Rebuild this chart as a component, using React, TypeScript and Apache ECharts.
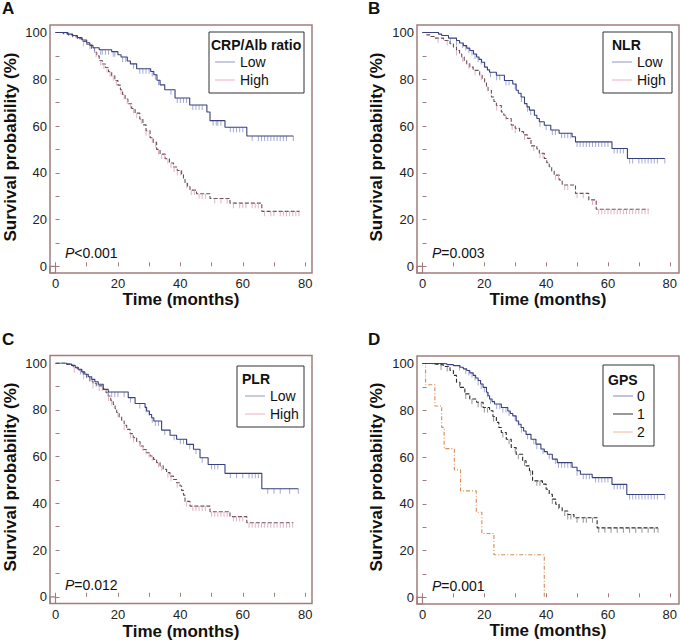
import React, { useEffect, useRef } from 'react';
import * as echarts from 'echarts';

type Step = [number, number];

const FONT = '"Liberation Sans", Arial, Helvetica, sans-serif';
const FRAME = '#a27c7c';

const X_TICK_LABELS = [0, 20, 40, 60, 80];
const Y_TICK_LABELS = [0, 20, 40, 60, 80, 100];
const panelLetters = ['A', 'B', 'C', 'D'];
const legendTitles = ['CRP/Alb ratio', 'NLR', 'PLR', 'GPS'];
const groupNames = [['Low', 'High'], ['Low', 'High'], ['Low', 'High'], ['0', '1', '2']];
const pSigns = ['<', '=', '=', '='];
const pValues = ['0.001', '0.003', '0.012', '0.001'];
const yTitle = 'Survival probability (%)';
const xTitle = 'Time (months)';

// Panel A: CRP/Alb ratio
const aLow: Step[] = [[0,100],[4,99.3],[5.5,98.7],[7,97.8],[8.5,96.8],[10,95.6],[11,94.5],[12,93.5],[14,92.6],[18,91.8],[20,90.5],[21,89.5],[23,87.8],[24,86.6],[26,84.5],[30.5,83.3],[31.5,81.9],[32.5,79.6],[33.5,77.6],[35,75.5],[38.3,72],[43,69],[48.5,66],[49.5,62.3],[54.3,59.5],[61.3,55.7],[76.2,55.7]];
const aHigh: Step[] = [[0,100],[2.5,99.5],[4,99],[5.5,98.2],[7,97.3],[8.5,96.2],[10,95],[11.5,93.2],[12.5,91.5],[13.2,90],[14,88],[15,86.5],[16,85],[17,83.2],[18,81.5],[19,79.5],[20,77.5],[20.8,75.5],[21.5,73.5],[22.3,71.5],[23.2,69.5],[24.4,67.5],[25.5,65.5],[27,63],[28,60.5],[29,58],[30.3,55],[31.3,53],[32.4,50],[33.5,48],[35.1,46],[36.5,44.2],[37.8,42.5],[39,41],[40.4,39.5],[41,37.5],[41.5,35.5],[42.3,34],[43.1,32.6],[45.2,31],[49.5,29],[55.9,27],[66.1,23.5],[78.2,23.5]];
const aLowCens = [12.5,14.5,15,16,17,18.5,19,21.5,22.5,25,27,28,29,30,31,32,33,37,39,40,41,42,44,45,46,47,50.5,51.5,52,53,56,57,58,59,60,63,65,66,67,68,69,70,71,72,73,74,76.2];
const aHighCens = [9,11,13,14.5,15.5,16.5,17.5,18.5,19.5,21,22,23,24,25,26,27.5,29,30,31,32,33,34,35,36,37,38,39,40,42,43.5,44.5,46,47,48,51,53,55,57,59,60,61,63,64,65,67,69,70,72,73,74,75,76,77,78];

// Panel B: NLR
const bLow: Step[] = [[0,100],[5.2,99.3],[6.2,98.7],[8.4,97.6],[11,96.6],[12,95.5],[13.2,94.4],[14.3,93.3],[15.3,92.3],[16.5,90.8],[17.5,89.5],[18.3,88.5],[19.1,87.3],[20.1,85.2],[21,84],[21.7,83],[23.9,81.7],[26.5,79.5],[29.2,78],[30.3,75.3],[31,74],[31.9,72.4],[33,69.6],[33.8,68.2],[34.6,66.8],[36.2,64.6],[37,63.2],[37.8,61.8],[39.4,60.3],[41.5,58.3],[44.2,56.9],[48.4,55.4],[49.5,53.2],[61.3,50.4],[66.3,46.1],[78.4,46.1]];
const bHigh: Step[] = [[0,100],[1.4,99],[2.5,98.3],[4.1,97.6],[6.8,96.6],[8.9,95.2],[10,93.8],[11,92.3],[12,90.8],[12.7,89.5],[13.5,88],[14.3,86.6],[15.3,85.2],[16.4,83.8],[18.5,81.7],[19.3,80.3],[20.1,78.8],[20.7,77],[21.2,75.3],[22.3,72.4],[23.1,70.5],[23.9,68.8],[25.5,66],[26.3,64.6],[27.1,63.2],[28.7,60.4],[30,59],[31.4,57.6],[32.7,56.2],[34,54.7],[35.1,51.5],[37,50.2],[37.8,48.3],[39.4,46.1],[40.2,44.3],[41,42.6],[41.8,40.8],[42.6,39],[44.2,36.9],[45.2,34.8],[49.5,31.2],[53.8,28.4],[56.2,24.4],[73.1,24.4]];
const bLowCens = [9,11,13,14,15,16,17,18,19,20,22,24,25,27,28,30,32,34,35,38,40,42,43,45,46,47,48,50,51,52,53,54,55,56,57,58,59,60,62,63,64,65,67,68,70,71,72,73,74,75,76,78.4];
const bHighCens = [5,8,11,13,15,17,19,21,24,27,29,30,33,36,38,39,43,44,46,47,50,52,55,57,58,59,60,61,62,63,64,65,66,67,68,69,70,71,72,73];

// Panel C: PLR
const cLow: Step[] = [[0,100],[3.6,99.5],[5.2,99],[6.3,98.2],[7.3,97.3],[8.4,96.2],[9.4,95.2],[10.5,94.1],[11.6,93],[12.6,92],[13.7,90.9],[15.3,88.7],[16.9,87.6],[23.3,85.2],[25.5,82.7],[28.7,81],[29.2,79.5],[30.1,78],[30.8,76.6],[31.5,75.2],[34,71.3],[36.7,69.1],[38.8,67.4],[42,65.2],[44.2,63.1],[46.3,59.5],[48.9,56.6],[54.3,52.8],[66.1,46.2],[77.8,46.2]];
const cHigh: Step[] = [[0,100],[3,99.5],[4.5,99],[5.7,98],[7,97],[8.9,95.2],[10,93.8],[11,92.3],[12,91.2],[13.2,90.2],[15.3,88.7],[16.2,87.3],[16.9,85.9],[17.7,84],[18.5,82.3],[19.1,80.5],[19.6,78.8],[20.4,77],[21.2,75.2],[22,73.4],[22.8,71.6],[23.9,69.8],[24.9,68.1],[26,66.3],[27.1,64.5],[28.1,63],[29.2,61.6],[30.3,60.2],[31.4,58.8],[32.4,57.4],[33.5,56],[34.5,54.5],[35.6,53.1],[36.7,51.6],[37.8,50.2],[38.8,48.8],[39.9,47.4],[40.4,45.5],[41,43.5],[41.5,40.8],[43.1,38.8],[49.5,36.4],[55.9,34.3],[61.3,31.7],[76.2,31.7]];
const cLowCens = [8,11,13,17,18,19,20,22,24,27,29,30,31,32,33,35,38,40,41,43,45,47,50,51,52,56,58,60,62,63,64,65,68,70,72,75,77.8];
const cHighCens = [6,9,12,14,15,17,18,20,22,24,25,27,28,29,30,31,33,34,36,37,39,42,44,45,46,47,48,50,51,52,53,54,55,57,58,59,60,62,63,64,65,66,67,68,69,70,71,72,73,74,75,76];

// Panel D: GPS
const dZero: Step[] = [[0,100],[5.7,99.9],[7.9,99.5],[10,99.1],[12.1,98.4],[13.2,97.7],[14.3,97],[15.3,96],[16.4,94.9],[17.2,93.8],[18,92.7],[18.8,91.2],[19.6,89.8],[20.7,87.7],[21.2,86.2],[21.7,84.8],[22.5,83.7],[23.3,82.7],[25.5,81.2],[27.6,79.7],[28.4,78.6],[29.2,77.6],[30.3,75.4],[31.1,74],[31.9,72.6],[32.7,71.1],[33.5,69.7],[35.1,67.6],[36.7,65.5],[38.3,63.4],[39.4,62.3],[40.4,61.2],[42,59.1],[43.6,57.6],[48.4,55.6],[50,54.1],[51.1,52.6],[54.9,51.2],[61.3,48.3],[66.1,44],[78.4,44]];
const dOne: Step[] = [[0,100],[3,99.7],[4.6,99.4],[6.8,98.7],[8.9,97],[10,94.9],[11,92],[12.1,89.8],[13.7,87],[15.3,84.8],[17.5,83.4],[19.6,81.2],[21.7,79.8],[22.8,77.3],[23.9,74.8],[24.7,72.6],[25.5,70.5],[27.1,67.6],[28.7,64.1],[30.3,61.2],[32.4,58.4],[33.5,56.2],[34.6,54.1],[35.6,49.8],[38.8,48.4],[40,46.2],[41,44.1],[42,42],[43.1,39.8],[44.2,38.3],[45.2,36.9],[47,35.4],[49,34],[56.5,29.7],[76.2,29.7]];
const dTwo: Step[] = [[0,100],[1,90.9],[4,81.8],[6.2,72.7],[7,63.6],[10.3,54.5],[12.3,45.5],[17.4,36.4],[19.2,27.3],[23.1,18.2],[39.4,0]];
const dZeroCens = [12,14,15,16,17,18,19,20,21,22,24,25,26,27,28,30,31,32,34,36,37,39,41,43,44,45,46,47,48,50,52,53,54,56,57,58,59,60,62,63,64,65,67,68,69,70,71,72,73,74,75,76,78.4];
const dOneCens = [6,8,12,14,16,18,19,20,21,23,26,28,30,31,33,35,37,38,42,44,46,47,48,50,52,53,55,57,59,61,63,65,67,69,71,73,75,76.2];
const dTwoCens: number[] = [];

const curves: Step[][][] = [[aLow, aHigh], [bLow, bHigh], [cLow, cHigh], [dZero, dOne, dTwo]];
const censors: number[][][] = [[aLowCens, aHighCens], [bLowCens, bHighCens], [cLowCens, cHighCens], [dZeroCens, dOneCens, dTwoCens]];

// styles
const twoGroupStyle = [
  { line: '#38407e', tick: '#8e95c9', legend: '#8e95c9', type: 'solid' as any },
  { line: '#6a4c55', tick: '#d9a3b0', legend: '#f0b0bf', type: [4, 2] as any },
];
const gpsStyle = [
  { line: '#38407e', tick: '#8e95c9', legend: '#8088c0', type: 'solid' as any },
  { line: '#2a2a2a', tick: '#7a7a7a', legend: '#333333', type: [4, 2] as any },
  { line: '#d98c55', tick: '#e8b08a', legend: '#f0b898', type: [4, 2, 1, 2] as any },
];
const panelStyles = [twoGroupStyle, twoGroupStyle, twoGroupStyle, gpsStyle];

// layout
const BOX_W = 262;
const BOX_H = 248;
const boxes = [{ l: 50, t: 25 }, { l: 417, t: 25 }, { l: 50, t: 355.5 }, { l: 417, t: 356 }];
const DX0 = 5.5, DW = 249.7, DY0 = 7.5, DH = 233.8;
const letterPos = [[2, 8], [368, 8], [2, 339], [368, 339]];
const yTitlePos = [[10, 147], [376, 147], [10, 477], [376, 477]];
const xTitlePos = [[181, 299], [548, 299], [181, 631], [548, 630]];
const pPos = [[65, 253], [432, 253], [65, 585], [432, 586]];
const legendBox = [
  { x: 209, y: 32, w: 95, h: 61, tx: 211, ty: 45, lx: 215, txt: 240, rows: [62, 80] },
  { x: 603, y: 32, w: 69, h: 61, tx: 612, ty: 45, lx: 612, txt: 637, rows: [62, 80] },
  { x: 237, y: 366, w: 67, h: 61, tx: 242, ty: 379, lx: 245, txt: 270, rows: [396, 414] },
  { x: 603, y: 365, w: 51, h: 81, tx: 608, ty: 380, lx: 613, txt: 637, rows: [396, 414, 432] },
];

function survAt(steps: Step[], t: number): number {
  let v = steps[0][1];
  for (const s of steps) {
    if (s[0] <= t) v = s[1];
    else break;
  }
  return v;
}

export default function App() {
  const ref = useRef<HTMLDivElement>(null);
  useEffect(() => {
    if (!ref.current) return;
    const chart = echarts.init(ref.current, null, { renderer: 'svg' });
    const grid: any[] = [];
    const xAxis: any[] = [];
    const yAxis: any[] = [];
    const series: any[] = [];
    const graphic: any[] = [];

    boxes.forEach((b, p) => {
      grid.push({ left: b.l + DX0, top: b.t + DY0, width: DW, height: DH, containLabel: false });
      xAxis.push({
        type: 'value', gridIndex: p, min: 0, max: 80, interval: 10, offset: BOX_H - DY0 - DH,
        axisLine: { show: false }, splitLine: { show: false },
        axisTick: { show: true, inside: true, length: 4, lineStyle: { color: FRAME, width: 1 } },
        axisLabel: {
          margin: 4, fontSize: 13, color: '#222', fontFamily: FONT,
          formatter: (v: number) => (X_TICK_LABELS.includes(v) ? String(v) : ''),
        },
      });
      yAxis.push({
        type: 'value', gridIndex: p, min: 0, max: 100, interval: 10, offset: DX0,
        axisLine: { show: false }, splitLine: { show: false },
        axisTick: { show: true, inside: true, length: 4, lineStyle: { color: FRAME, width: 1 } },
        axisLabel: {
          margin: 3, fontSize: 13, color: '#222', fontFamily: FONT,
          formatter: (v: number) => (Y_TICK_LABELS.includes(v) ? String(v) : ''),
        },
      });

      const styles = panelStyles[p];
      curves[p].forEach((steps, i) => {
        const st = styles[i];
        series.push({
          type: 'line', name: groupNames[p][i], xAxisIndex: p, yAxisIndex: p,
          data: steps, step: 'end', showSymbol: false, symbol: 'none',
          lineStyle: { color: st.line, width: 1.1, type: st.type },
          z: 5 - i,
        });
        const cens = censors[p][i].map((t) => [t, survAt(steps, t)]);
        if (cens.length) {
          series.push({
            type: 'scatter', xAxisIndex: p, yAxisIndex: p, data: cens,
            symbol: 'rect', symbolSize: [1, 5], symbolOffset: [0, 2.5],
            itemStyle: { color: st.tick }, z: 4,
          });
        }
      });

      // frame
      graphic.push({
        type: 'rect', shape: { x: b.l, y: b.t, width: BOX_W, height: BOX_H },
        style: { fill: 'none', stroke: FRAME, lineWidth: 1.5 }, silent: true,
      });
      graphic.push({
        type: 'rect', shape: { x: b.l, y: b.t + DY0 + DH, width: DX0, height: BOX_H - DY0 - DH },
        style: { fill: 'none', stroke: FRAME, lineWidth: 1.2 }, silent: true,
      });
      // letter
      graphic.push({
        type: 'text', x: letterPos[p][0], y: letterPos[p][1],
        style: { text: panelLetters[p], font: `bold 17px ${FONT}`, fill: '#111', textVerticalAlign: 'middle' },
      });
      // axis titles
      graphic.push({
        type: 'text', x: yTitlePos[p][0], y: yTitlePos[p][1], rotation: Math.PI / 2,
        style: { text: yTitle, font: `bold 17px ${FONT}`, fill: '#111', textAlign: 'center', textVerticalAlign: 'middle' },
      });
      graphic.push({
        type: 'text', x: xTitlePos[p][0], y: xTitlePos[p][1],
        style: { text: xTitle, font: `bold 17px ${FONT}`, fill: '#111', textAlign: 'center', textVerticalAlign: 'middle' },
      });
      // p value
      graphic.push({
        type: 'text', x: pPos[p][0], y: pPos[p][1],
        style: {
          text: `{i|P}{n|${pSigns[p]}${pValues[p]}}`,
          rich: {
            i: { fontStyle: 'italic', fontSize: 14, fontFamily: FONT, fill: '#111' },
            n: { fontSize: 14, fontFamily: FONT, fill: '#111' },
          },
          font: `14px ${FONT}`, fill: '#111', textVerticalAlign: 'middle',
        },
      });
      // legend
      const lg = legendBox[p];
      graphic.push({
        type: 'rect', shape: { x: lg.x, y: lg.y, width: lg.w, height: lg.h },
        style: { fill: '#fff', stroke: '#333', lineWidth: 1 }, z: 10,
      });
      graphic.push({
        type: 'text', x: lg.tx, y: lg.ty, z: 11,
        style: { text: legendTitles[p], font: `bold 14px ${FONT}`, fill: '#111', textVerticalAlign: 'middle' },
      });
      groupNames[p].forEach((nm, i) => {
        graphic.push({
          type: 'line', z: 11,
          shape: { x1: lg.lx, y1: lg.rows[i], x2: lg.lx + 20, y2: lg.rows[i] },
          style: { stroke: styles[i].legend, lineWidth: 1 },
        });
        graphic.push({
          type: 'text', x: lg.txt, y: lg.rows[i], z: 11,
          style: { text: nm, font: `14px ${FONT}`, fill: '#111', textVerticalAlign: 'middle' },
        });
      });
    });

    chart.setOption({
      animation: false,
      backgroundColor: '#fff',
      grid, xAxis, yAxis, series, graphic,
    });
    return () => chart.dispose();
  }, []);
  return <div ref={ref} style={{ position: 'fixed', left: 0, top: 0, width: 680, height: 644 }} />;
}
